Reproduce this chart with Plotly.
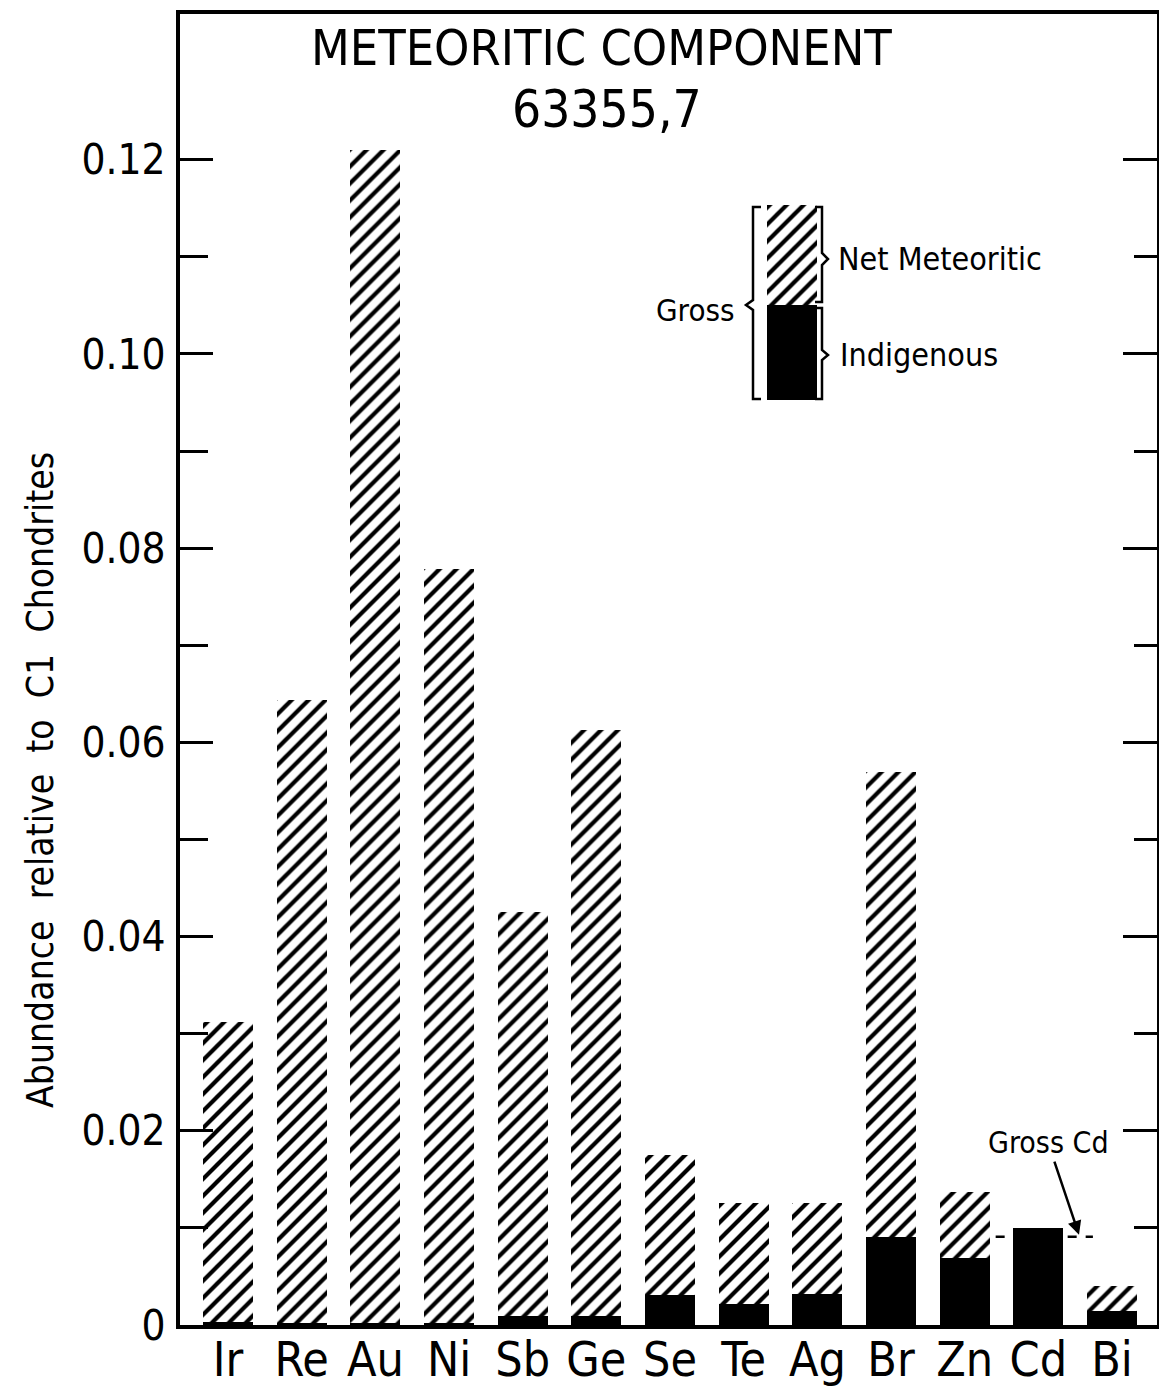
import plotly.graph_objects as go

# ---- data ----
elements = ["Ir", "Re", "Au", "Ni", "Sb", "Ge", "Se", "Te", "Ag", "Br", "Zn", "Cd", "Bi"]
gross = [0.0312, 0.0644, 0.1210, 0.0778, 0.0425, 0.0613, 0.0175, 0.0126, 0.0126, 0.0569, 0.0137, 0.0091, 0.0040]
indigenous = [0.0003, 0.0002, 0.0002, 0.0002, 0.0009, 0.0009, 0.0031, 0.0022, 0.0032, 0.0091, 0.0069, 0.0100, 0.0014]
net_meteoritic = [max(g - i, 0.0) for g, i in zip(gross, indigenous)]
y_tickvals = [0, 0.02, 0.04, 0.06, 0.08, 0.10, 0.12]
y_ticktext = ["0", "0.02", "0.04", "0.06", "0.08", "0.10", "0.12"]
y_minorvals = [0.01, 0.03, 0.05, 0.07, 0.09, 0.11]

FONT = "DejaVu Sans Condensed, Liberation Sans Narrow, Arial Narrow, sans-serif"
W, H = 1159, 1397
L, R, T, B = 180, 1157, 14, 1325  # plot area in pixels
XR = [-0.652, 12.61]
YR = [0, 0.135]
BW = 0.68


def px(x):  # pixel -> paper x
    return (x - L) / (R - L)


def py(y):  # pixel -> paper y
    return (B - y) / (B - T)


def dx(x):  # pixel -> data x
    return XR[0] + (x - L) / (R - L) * (XR[1] - XR[0])


def dy(y):  # pixel -> data y
    return YR[0] + (B - y) / (B - T) * (YR[1] - YR[0])


xs = list(range(len(elements)))
hatch = dict(shape="/", fgcolor="black", bgcolor="white", size=12, solidity=0.35, fillmode="replace")

fig = go.Figure()
fig.add_trace(go.Bar(x=xs, y=indigenous, width=BW, marker=dict(color="black", line=dict(width=0)),
                     name="Indigenous", showlegend=False))
fig.add_trace(go.Bar(x=xs, y=net_meteoritic, base=indigenous, width=BW,
                     marker=dict(color="white", pattern=hatch, line=dict(width=0)),
                     name="Net Meteoritic", showlegend=False))

# legend key (drawn as bars in data space)
kx = dx(792)
k_black_lo, k_mid, k_top = dy(400), dy(305), dy(205)
fig.add_trace(go.Bar(x=[kx], y=[k_mid - k_black_lo], base=[k_black_lo], width=BW,
                     marker=dict(color="black", line=dict(width=0)), showlegend=False, hoverinfo="skip"))
fig.add_trace(go.Bar(x=[kx], y=[k_top - k_mid], base=[k_mid], width=BW,
                     marker=dict(color="white", pattern=hatch, line=dict(width=0)),
                     showlegend=False, hoverinfo="skip"))
# dummy trace for right-hand tick axis
fig.add_trace(go.Scatter(x=[0], y=[0], yaxis="y2", mode="markers", marker=dict(opacity=0),
                         showlegend=False, hoverinfo="skip"))

fig.update_layout(
    width=W, height=H,
    margin=dict(l=L, r=W - R, t=T, b=H - B, pad=0, autoexpand=False),
    paper_bgcolor="white", plot_bgcolor="white",
    barmode="overlay",
    bargap=0,
    font=dict(family=FONT, color="black"),
    xaxis=dict(range=XR, tickmode="array", tickvals=xs, ticktext=elements, ticks="",
               showline=True, linewidth=4, linecolor="black", mirror=True, automargin=False,
               showgrid=False, zeroline=False, tickfont=dict(size=48, family=FONT),
               ticklabelstandoff=-11),
    yaxis=dict(range=YR, tickmode="array", tickvals=y_tickvals, ticktext=y_ticktext,
               ticks="inside", ticklen=33, tickwidth=3, tickcolor="black", automargin=False,
               minor=dict(tickmode="array", tickvals=y_minorvals, ticks="inside", ticklen=28,
                          tickwidth=3, tickcolor="black", showgrid=False),
               showline=True, linewidth=4, linecolor="black", mirror=True,
               showgrid=False, zeroline=False, tickfont=dict(size=42, family=FONT),
               ticklabelstandoff=2),
    yaxis2=dict(range=YR, overlaying="y", side="right", tickmode="array", tickvals=y_tickvals,
                ticks="inside", ticklen=34, tickwidth=3, tickcolor="black", automargin=False,
                minor=dict(tickmode="array", tickvals=y_minorvals, ticks="inside", ticklen=23,
                           tickwidth=3, tickcolor="black", showgrid=False),
                showline=False, showgrid=False, zeroline=False, showticklabels=False),
)

# titles and labels
ann = []
ann.append(dict(x=px(601), y=py(48), xref="paper", yref="paper", text="METEORITIC COMPONENT",
                showarrow=False, font=dict(size=50, family=FONT), xanchor="center", yanchor="middle"))
ann.append(dict(x=px(607), y=py(110), xref="paper", yref="paper", text="63355,7",
                showarrow=False, font=dict(size=51, family=FONT), xanchor="center", yanchor="middle"))
ann.append(dict(x=px(40), y=py(780), xref="paper", yref="paper", text="Abundance  relative  to  C1  Chondrites",
                textangle=-90, showarrow=False, font=dict(size=37, family=FONT),
                xanchor="center", yanchor="middle"))
ann.append(dict(x=px(836), y=py(259), xref="paper", yref="paper", text="Net Meteoritic",
                showarrow=False, font=dict(size=32, family=FONT), xanchor="left", yanchor="middle"))
ann.append(dict(x=px(838), y=py(355), xref="paper", yref="paper", text="Indigenous",
                showarrow=False, font=dict(size=32, family=FONT), xanchor="left", yanchor="middle"))
ann.append(dict(x=px(737), y=py(310), xref="paper", yref="paper", text="Gross",
                showarrow=False, font=dict(size=31, family=FONT), xanchor="right", yanchor="middle"))
# Gross Cd arrow
cd = elements.index("Cd")
ann.append(dict(x=dx(1079), y=gross[cd] + 0.0002, xref="x", yref="y", text="Gross Cd",
                showarrow=True, ax=-31, ay=-92, axref="pixel", ayref="pixel",
                arrowhead=2, arrowsize=1.1, arrowwidth=2.5, arrowcolor="black",
                font=dict(size=30, family=FONT)))
fig.update_layout(annotations=ann)


def path(points):
    s = "M {:.5f},{:.5f}".format(px(points[0][0]), py(points[0][1]))
    for p in points[1:]:
        s += " L {:.5f},{:.5f}".format(px(p[0]), py(p[1]))
    return s


shapes = []
line = dict(color="black", width=2.5)
shapes.append(dict(type="path", xref="paper", yref="paper", line=line,
                   path=path([(761, 207), (753, 207), (753, 300), (746, 305), (753, 310), (753, 399), (761, 399)])))
shapes.append(dict(type="path", xref="paper", yref="paper", line=line,
                   path=path([(815, 207), (822, 207), (822, 253), (828, 259), (822, 265), (822, 302), (815, 302)])))
shapes.append(dict(type="path", xref="paper", yref="paper", line=line,
                   path=path([(815, 308), (822, 308), (822, 350), (828, 355), (822, 360), (822, 399), (815, 399)])))
# dashed gross Cd level
shapes.append(dict(type="line", xref="x", yref="y", x0=cd - 1 + BW / 2 + 0.08, x1=cd + 0.74,
                   y0=gross[cd], y1=gross[cd], line=dict(color="black", width=2.5, dash="dash"),
                   layer="below"))
fig.update_layout(shapes=shapes)

fig.write_html("out.html", config={"displayModeBar": False},
               post_script="document.body.style.margin='0';document.body.style.overflow='hidden';")
